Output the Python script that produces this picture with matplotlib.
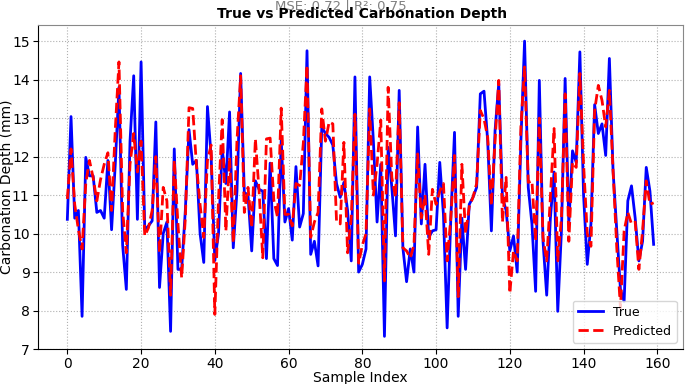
import numpy as np
import matplotlib
matplotlib.use("Agg")
import matplotlib.pyplot as plt

# values
y_true = [10.37, 13.04, 10.4, 10.6, 7.85, 11.98, 11.5, 11.5, 10.55, 10.6,
          10.4, 11.9, 10.1, 11.8, 13.8, 9.7, 8.55, 12.4, 14.1, 10.37,
          14.46, 10.1, 10.2, 10.33, 12.9, 8.6, 10.0, 10.3, 7.46, 12.2,
          9.07, 9.07, 10.6, 12.7, 11.8, 11.9, 10.0, 9.25, 13.3, 12.0,
          9.3, 10.0, 12.2, 11.3, 13.16, 9.63, 11.1, 14.16, 11.07, 11.0,
          9.55, 11.37, 11.15, 11.1, 9.35, 11.83, 9.35, 9.17, 12.43, 10.3,
          10.65, 9.83, 11.74, 10.17, 10.52, 14.75, 9.46, 9.8, 9.16, 12.77,
          12.6, 12.5, 12.3, 11.3, 10.94, 11.33, 10.6, 9.29, 14.07, 9.0,
          9.2, 9.6, 14.07, 12.4, 10.3, 11.8, 7.33, 12.24, 11.2, 9.94,
          13.72, 9.63, 8.75, 9.6, 9.0, 12.77, 10.25, 11.8, 9.9, 10.07,
          10.1, 11.85, 10.5, 7.55, 10.4, 12.63, 7.85, 10.4, 9.07, 10.76,
          10.94, 11.2, 13.63, 13.7, 12.4, 10.07, 12.68, 13.9, 10.94, 10.6,
          9.55, 9.94, 9.0, 12.4, 15.0, 11.2, 10.25, 8.5, 13.98, 9.8,
          8.4, 10.4, 11.6, 7.98, 10.07, 14.03, 10.25, 12.15, 11.85, 14.72,
          11.0, 9.2, 10.25, 13.35, 12.6, 12.85, 12.03, 14.55, 11.63, 10.07,
          8.55, 8.24, 10.85, 11.24, 10.4, 9.29, 9.8, 11.72, 11.1, 9.72]

y_pred = [10.9, 12.2, 10.76, 10.1, 9.6, 11.3, 11.9, 11.45, 10.85, 11.4,
          11.8, 12.1, 10.6, 12.7, 14.46, 10.6, 9.5, 11.8, 12.6, 11.6,
          12.4, 9.94, 10.15, 10.6, 12.0, 9.5, 11.2, 10.85, 8.4, 11.9,
          10.25, 8.85, 10.4, 13.27, 13.25, 11.8, 10.75, 9.9, 11.9, 12.3,
          7.9, 10.9, 12.96, 10.07, 11.98, 9.76, 12.4, 14.1, 10.55, 11.2,
          10.15, 12.46, 11.1, 9.37, 12.46, 12.48, 10.87, 10.43, 13.26, 10.5,
          10.5, 10.2, 11.3, 11.25, 12.35, 14.37, 9.9, 10.3, 10.55, 13.24,
          12.4, 12.9, 12.85, 10.33, 10.25, 12.37, 9.5, 10.4, 13.1, 9.23,
          9.7, 10.0, 13.24, 11.0, 11.8, 12.95, 8.77, 13.8, 11.46, 10.94,
          13.4, 9.63, 9.55, 9.37, 9.7, 12.07, 10.4, 11.0, 9.46, 11.15,
          10.76, 11.1, 11.3, 9.29, 10.4, 12.03, 8.36, 11.8, 10.0, 10.7,
          10.94, 11.3, 13.2, 12.98, 12.5, 10.72, 12.42, 13.98, 10.3, 11.46,
          8.45, 9.55, 9.29, 12.77, 14.33, 11.33, 11.37, 9.8, 13.0, 9.9,
          9.29, 10.94, 12.73, 9.29, 10.4, 13.63, 9.8, 11.85, 11.72, 14.16,
          11.8, 10.0, 9.67, 13.2, 13.85, 13.46, 12.77, 13.72, 11.63, 9.63,
          8.07, 10.07, 10.55, 10.25, 10.3, 9.07, 10.07, 11.37, 10.76, 10.8]

mse_text = "MSE: 0.72 | R²: 0.75"
title_text = "True vs Predicted Carbonation Depth"

idx = np.arange(len(y_true))

fig = plt.figure(figsize=(6.85, 3.84), dpi=100)
ax = fig.add_subplot(111)
fig.subplots_adjust(left=0.0555, right=0.997, top=0.935, bottom=0.091)

ax.plot(idx, y_true, color='blue', lw=2, label='True')
ax.plot(idx, y_pred, color='red', lw=2, ls='--', label='Predicted')

ax.set_ylim(7, 15.42)
ax.set_yticks(np.arange(7, 16, 1))
ax.set_xticks(np.arange(0, 161, 20))
ax.grid(True, ls=':', color='#b0b0b0', lw=0.8)
ax.tick_params(labelsize=10, pad=2.5)

ax.spines['top'].set_color('#888888')
ax.spines['right'].set_color('#888888')

ax.set_xlabel('Sample Index', fontsize=10, labelpad=0)
ax.set_ylabel('Carbonation Depth (mm)', fontsize=10)
ax.yaxis.set_label_coords(-0.038, 0.5)

# score line sits above the title and gets clipped by the top edge, as in the original
fig.text(0.498, 0.974, mse_text, ha='center', va='baseline', fontsize=9.5, color='gray')
fig.text(0.528, 0.953, title_text, ha='center', va='baseline', fontsize=10, fontweight='bold')

ax.legend(loc='lower right', fontsize=9)

fig.savefig('out.png', dpi=100)
